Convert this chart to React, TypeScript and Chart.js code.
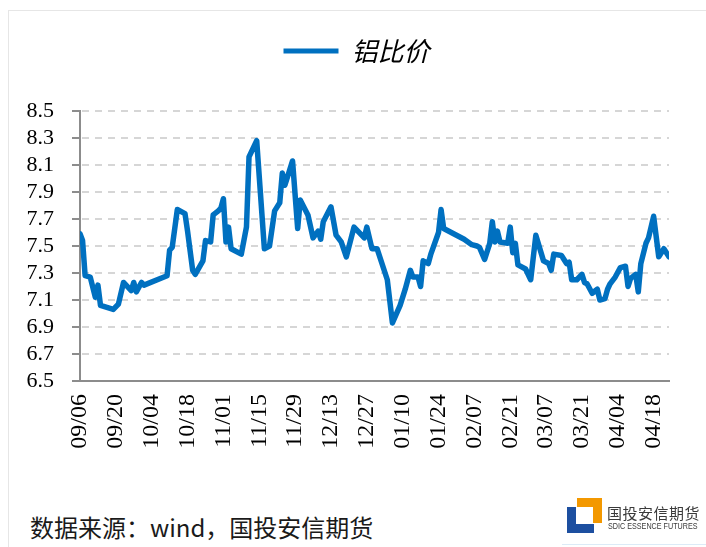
import React, { useEffect, useRef } from "react";
import { Chart, registerables } from "chart.js";

Chart.register(...registerables);

const seriesName = "铝比价";

const dates: string[] = [
  "2018-09-06", "2018-09-07", "2018-09-08", "2018-09-10", "2018-09-12", "2018-09-13", "2018-09-14",
  "2018-09-19", "2018-09-21", "2018-09-23", "2018-09-26", "2018-09-27", "2018-09-28", "2018-09-30",
  "2018-10-01", "2018-10-10", "2018-10-11", "2018-10-12", "2018-10-14", "2018-10-17", "2018-10-18",
  "2018-10-20", "2018-10-21", "2018-10-24", "2018-10-25", "2018-10-27", "2018-10-28", "2018-10-30",
  "2018-10-31", "2018-11-01", "2018-11-02", "2018-11-03", "2018-11-04", "2018-11-08", "2018-11-10",
  "2018-11-11", "2018-11-14", "2018-11-17", "2018-11-19", "2018-11-21", "2018-11-23", "2018-11-24",
  "2018-11-25", "2018-11-28", "2018-11-30", "2018-12-01", "2018-12-04", "2018-12-06", "2018-12-08",
  "2018-12-09", "2018-12-10", "2018-12-13", "2018-12-15", "2018-12-17", "2018-12-19", "2018-12-22",
  "2018-12-25", "2018-12-26", "2018-12-27", "2018-12-29", "2018-12-31", "2019-01-04", "2019-01-06",
  "2019-01-09", "2019-01-11", "2019-01-13", "2019-01-14", "2019-01-16", "2019-01-17", "2019-01-18",
  "2019-01-20", "2019-01-21", "2019-01-24", "2019-01-25", "2019-01-26", "2019-02-03", "2019-02-06",
  "2019-02-08", "2019-02-09", "2019-02-11", "2019-02-13", "2019-02-14", "2019-02-15", "2019-02-16",
  "2019-02-17", "2019-02-20", "2019-02-21", "2019-02-22", "2019-02-23", "2019-02-24", "2019-02-27",
  "2019-03-01", "2019-03-03", "2019-03-06", "2019-03-08", "2019-03-09", "2019-03-10", "2019-03-13",
  "2019-03-15", "2019-03-16", "2019-03-17", "2019-03-19", "2019-03-21", "2019-03-22", "2019-03-23",
  "2019-03-25", "2019-03-27", "2019-03-28", "2019-03-30", "2019-03-31", "2019-04-01", "2019-04-03",
  "2019-04-05", "2019-04-07", "2019-04-08", "2019-04-09", "2019-04-11", "2019-04-12", "2019-04-13",
  "2019-04-15", "2019-04-16", "2019-04-18", "2019-04-20", "2019-04-22", "2019-04-23", "2019-04-24",
];

const values: number[] = [
  7.59, 7.54, 7.28, 7.27, 7.12, 7.21, 7.06,
  7.03, 7.07, 7.23, 7.17, 7.23, 7.16, 7.23,
  7.21, 7.28, 7.47, 7.49, 7.77, 7.74, 7.61,
  7.32, 7.29, 7.39, 7.54, 7.53, 7.73, 7.76,
  7.78, 7.85, 7.53, 7.64, 7.48, 7.44, 7.64,
  8.16, 8.28, 7.48, 7.5, 7.76, 7.82, 8.04,
  7.95, 8.13, 7.63, 7.84, 7.73, 7.56, 7.61,
  7.55, 7.68, 7.79, 7.58, 7.53, 7.42, 7.64,
  7.58, 7.56, 7.64, 7.48, 7.48, 7.25, 6.93,
  7.06, 7.18, 7.32, 7.27, 7.27, 7.2, 7.39,
  7.37, 7.44, 7.6, 7.77, 7.63, 7.55, 7.51,
  7.5, 7.49, 7.4, 7.52, 7.68, 7.53, 7.61,
  7.53, 7.52, 7.64, 7.45, 7.52, 7.36, 7.33,
  7.25, 7.58, 7.39, 7.37, 7.32, 7.44, 7.43,
  7.37, 7.38, 7.25, 7.25, 7.29, 7.23, 7.22,
  7.15, 7.18, 7.1, 7.11, 7.18, 7.22, 7.27,
  7.34, 7.35, 7.2, 7.26, 7.29, 7.16, 7.37,
  7.52, 7.56, 7.72, 7.42, 7.48, 7.45, 7.42,
];

const tickDates: string[] = [
  "2018-09-06", "2018-09-20", "2018-10-04", "2018-10-18", "2018-11-01", "2018-11-15",
  "2018-11-29", "2018-12-13", "2018-12-27", "2019-01-10", "2019-01-24", "2019-02-07",
  "2019-02-21", "2019-03-07", "2019-03-21", "2019-04-04", "2019-04-18",
];

const yTicks: number[] = [6.5, 6.7, 6.9, 7.1, 7.3, 7.5, 7.7, 7.9, 8.1, 8.3, 8.5];

const axisStart = "2018-09-06";
const axisEnd = "2019-04-24";

const toUTC = (s: string) => {
  const [y, m, d] = s.split("-").map(Number);
  return Date.UTC(y, m - 1, d);
};
const dayIndex = (s: string) => Math.round((toUTC(s) - toUTC(axisStart)) / 86400000);
const mmdd = (s: string) => s.slice(5).replace("-", "/");

const legendSpacing = {
  id: "legendSpacing",
  beforeInit(chart: any) {
    const origFit = chart.legend.fit;
    chart.legend.fit = function fit() {
      origFit.bind(chart.legend)();
      this.height += 37;
    };
  },
  afterLayout(chart: any) {
    if (chart.legend) {
      chart.legend.left += 22;
      chart.legend.right += 22;
    }
  },
};

const dashedGrid = {
  id: "dashedGrid",
  beforeDatasetsDraw(chart: any) {
    const { ctx, chartArea, scales } = chart;
    const y = scales.y;
    ctx.save();
    ctx.lineWidth = 2;
    ctx.strokeStyle = "#D6D6D6";
    ctx.setLineDash([7, 6]);
    yTicks.forEach((v) => {
      if (v === 6.5) return;
      const py = Math.round(y.getPixelForValue(v));
      ctx.beginPath();
      ctx.moveTo(chartArea.left + 2, py);
      ctx.lineTo(chartArea.right, py);
      ctx.stroke();
    });
    ctx.restore();
  },
  afterDraw(chart: any) {
    const { ctx, chartArea, scales } = chart;
    const y = scales.y;
    ctx.save();
    ctx.lineWidth = 2;
    ctx.setLineDash([]);
    ctx.strokeStyle = "#8C8C8C";
    yTicks.forEach((v) => {
      const py = Math.round(y.getPixelForValue(v));
      ctx.beginPath();
      ctx.moveTo(chartArea.left - 8, py);
      ctx.lineTo(chartArea.left, py);
      ctx.stroke();
    });
    ctx.restore();
  },
};

export default function App() {
  const canvasRef = useRef<HTMLCanvasElement | null>(null);

  useEffect(() => {
    if (!canvasRef.current) return;
    const tickMap = new Map<number, string>();
    tickDates.forEach((d) => tickMap.set(dayIndex(d), mmdd(d)));

    const chart = new Chart(canvasRef.current, {
      type: "line",
      data: {
        datasets: [
          {
            label: seriesName,
            data: dates.map((d, i) => ({ x: dayIndex(d), y: values[i] })),
            borderColor: "#0070C0",
            backgroundColor: "#0070C0",
            borderWidth: 5.5,
            pointRadius: 0,
            tension: 0,
            borderJoinStyle: "round",
            borderCapStyle: "round",
            fill: false,
          },
        ],
      },
      options: {
        animation: false,
        responsive: false,
        maintainAspectRatio: false,
        layout: { padding: { top: 28, left: 0, right: 37, bottom: 0 } },
        plugins: {
          tooltip: { enabled: false },
          legend: {
            display: true,
            position: "top",
            align: "center",
            labels: {
              boxWidth: 55,
              boxHeight: 5,
              padding: 10,
              color: "#000",
              font: { family: "'Noto Sans CJK SC', sans-serif", size: 26, style: "italic" },
              generateLabels: () => [
                {
                  text: seriesName,
                  fillStyle: "#0070C0",
                  strokeStyle: "#0070C0",
                  lineWidth: 0,
                  hidden: false,
                  datasetIndex: 0,
                  fontColor: "#000",
                } as any,
              ],
            },
          },
        },
        scales: {
          x: {
            type: "linear",
            min: dayIndex(axisStart),
            max: dayIndex(axisEnd),
            afterBuildTicks: (scale: any) => {
              scale.ticks = tickDates.map((d) => ({ value: dayIndex(d) }));
            },
            afterFit: (scale: any) => {
              scale.height = 119;
            },
            grid: { display: false, drawTicks: false },
            border: { display: true, color: "#8C8C8C", width: 2 },
            ticks: {
              autoSkip: false,
              minRotation: 90,
              maxRotation: 90,
              padding: 13,
              color: "#000",
              font: { family: "'Liberation Serif', 'Times New Roman', serif", size: 24 },
              callback: (v: any) => tickMap.get(Number(v)) ?? "",
            },
          },
          y: {
            type: "linear",
            min: 6.5,
            max: 8.5,
            afterBuildTicks: (scale: any) => {
              scale.ticks = yTicks.map((v) => ({ value: v }));
            },
            afterFit: (scale: any) => {
              scale.width = 80;
            },
            grid: {
              display: true,
              drawOnChartArea: false,
              color: "rgba(0,0,0,0)",
              drawTicks: true,
              tickLength: 8,
              tickColor: "rgba(0,0,0,0)",
            },
            border: { display: true, color: "#8C8C8C", width: 2 },
            ticks: {
              autoSkip: false,
              padding: 18,
              color: "#000",
              font: { family: "'Liberation Serif', 'Times New Roman', serif", size: 22 },
              callback: (v: any) => Number(v).toFixed(1),
            },
          },
        },
      },
      plugins: [legendSpacing, dashedGrid],
    });
    return () => chart.destroy();
  }, []);

  return (
    <div
      style={{
        position: "absolute",
        left: 0,
        top: 0,
        width: 706,
        height: 547,
        background: "#fff",
        overflow: "hidden",
      }}
    >
      <div
        style={{
          position: "absolute",
          left: 8,
          top: 10,
          width: 698,
          height: 537,
          borderLeft: "1px solid #E6E6E6",
          borderTop: "1px solid #E6E6E6",
        }}
      />
      <canvas
        ref={canvasRef}
        width={706}
        height={500}
        style={{ position: "absolute", left: 0, top: 0, width: 706, height: 500 }}
      />
      <div
        style={{
          position: "absolute",
          left: 30,
          top: 511,
          fontFamily: "'Noto Sans CJK SC', sans-serif",
          fontSize: 24,
          lineHeight: "32px",
          color: "#1a1a1a",
          whiteSpace: "nowrap",
        }}
      >
        数据来源：wind，国投安信期货
      </div>
      <div style={{ position: "absolute", left: 567, top: 498, width: 35, height: 35 }}>
        <div
          style={{
            position: "absolute",
            left: 10,
            top: 0,
            width: 25,
            height: 25,
            boxSizing: "border-box",
            borderTop: "9px solid #F39800",
            borderRight: "9px solid #F39800",
          }}
        />
        <div
          style={{
            position: "absolute",
            left: 0,
            top: 9,
            width: 27,
            height: 26,
            boxSizing: "border-box",
            borderLeft: "9px solid #1D4FA0",
            borderBottom: "9px solid #1D4FA0",
          }}
        />
      </div>
      <div
        style={{
          position: "absolute",
          left: 607,
          top: 503,
          fontFamily: "'Noto Sans CJK SC', sans-serif",
          fontSize: 15,
          lineHeight: "19px",
          color: "#3a3a3a",
          whiteSpace: "nowrap",
          letterSpacing: 0.5,
        }}
      >
        国投安信期货
      </div>
      <div
        style={{
          position: "absolute",
          left: 608,
          top: 521,
          fontFamily: "'Liberation Sans Narrow', 'Liberation Sans', sans-serif",
          fontSize: 9,
          lineHeight: "11px",
          color: "#3a3a3a",
          whiteSpace: "nowrap",
          transform: "scaleX(0.8)",
          transformOrigin: "left top",
        }}
      >
        SDIC ESSENCE FUTURES
      </div>
      <div
        style={{
          position: "absolute",
          left: 562,
          top: 544,
          width: 144,
          height: 1,
          background: "#DCEBF7",
        }}
      />
    </div>
  );
}
